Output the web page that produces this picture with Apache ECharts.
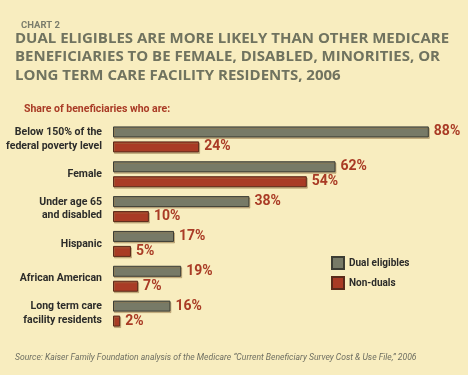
<!DOCTYPE html>
<html>
<head>
<meta charset="utf-8">
<script src="https://cdn.jsdelivr.net/npm/echarts@6/dist/echarts.min.js"></script>
<style>
  html, body { margin: 0; padding: 0; background: #f8edbf; }
  #chart { width: 468px; height: 375px; }
</style>
</head>
<body>
<div id="chart"></div>
<script>
var categories = [
    'Below 150% of the\nfederal poverty level',
    'Female',
    'Under age 65\nand disabled',
    'Hispanic',
    'African American',
    'Long term care\nfacility residents'
];
var dualValues = [88, 62, 38, 17, 19, 16];
var nonDualValues = [24, 54, 10, 5, 7, 2];

var narrow = "Roboto, 'Liberation Sans', sans-serif";
var gray = '#777a67';
var red = '#a93b25';

var myChart = echarts.init(document.getElementById('chart'));

var option = {
    backgroundColor: '#f8edbf',
    title: [
        {
            text: 'CHART 2',
            left: 16, top: 16,
            textStyle: { fontFamily: narrow, fontSize: 9.5, fontWeight: 'bold', color: '#7b7d6c' }
        },
        {
            text: 'DUAL ELIGIBLES ARE MORE LIKELY THAN OTHER MEDICARE\nBENEFICIARIES TO BE FEMALE, DISABLED, MINORITIES, OR\nLONG TERM CARE FACILITY RESIDENTS, 2006',
            left: 15, top: 29,
            padding: 0,
            textStyle: { fontFamily: "'Open Sans', sans-serif", fontSize: 15, fontWeight: 'bold', color: '#70735f', lineHeight: 18.5 }
        },
        {
            text: 'Share of beneficiaries who are:',
            left: 19, top: 99,
            textStyle: { fontFamily: narrow, fontSize: 10.5, fontWeight: 'bold', color: red }
        },
        {
            text: 'Source: Kaiser Family Foundation analysis of the Medicare \u201cCurrent Beneficiary Survey Cost & Use File,\u201d 2006',
            left: 10, top: 348,
            textStyle: { fontFamily: narrow, fontSize: 8.6, fontStyle: 'italic', fontWeight: 'normal', color: '#6e6f62' }
        }
    ],
    legend: {
        orient: 'vertical',
        left: 331, top: 256,
        padding: 0,
        itemWidth: 12, itemHeight: 12, itemGap: 6,
        icon: 'rect',
        data: ['Dual eligibles', 'Non-duals'],
        textStyle: { fontFamily: narrow, fontSize: 10, fontWeight: 'bold', color: '#2c2c2a' }
    },
    grid: { left: 113, right: 32, top: 122, bottom: 44, outerBoundsMode: 'none' },
    xAxis: {
        type: 'value',
        min: 0, max: 90,
        show: false
    },
    yAxis: {
        type: 'category',
        inverse: true,
        data: categories,
        axisLine: { show: false },
        axisTick: { show: false },
        axisLabel: {
            margin: 11,
            fontFamily: narrow,
            fontSize: 10.5,
            fontWeight: 'bold',
            color: '#2c2c2a',
            lineHeight: 13.5,
            align: 'right'
        }
    },
    series: [
        {
            name: 'Dual eligibles',
            type: 'bar',
            data: dualValues,
            barWidth: 11,
            barGap: '36%',
            itemStyle: {
                color: gray,
                borderColor: '#3c3d34',
                borderWidth: 1,
                shadowColor: 'rgba(150,120,70,0.45)',
                shadowOffsetX: 1,
                shadowOffsetY: 1.5
            },
            label: {
                show: true, position: 'right', distance: 5,
                formatter: '{c}%',
                fontFamily: narrow, fontSize: 14, fontWeight: 'bold', color: red
            }
        },
        {
            name: 'Non-duals',
            type: 'bar',
            data: nonDualValues,
            barWidth: 11,
            itemStyle: {
                color: red,
                borderColor: '#5a2a1a',
                borderWidth: 1,
                shadowColor: 'rgba(150,120,70,0.45)',
                shadowOffsetX: 1,
                shadowOffsetY: 1.5
            },
            label: {
                show: true, position: 'right', distance: 5,
                formatter: '{c}%',
                fontFamily: narrow, fontSize: 14, fontWeight: 'bold', color: red
            }
        }
    ]
};

myChart.setOption(option, true);
</script>
</body>
</html>
